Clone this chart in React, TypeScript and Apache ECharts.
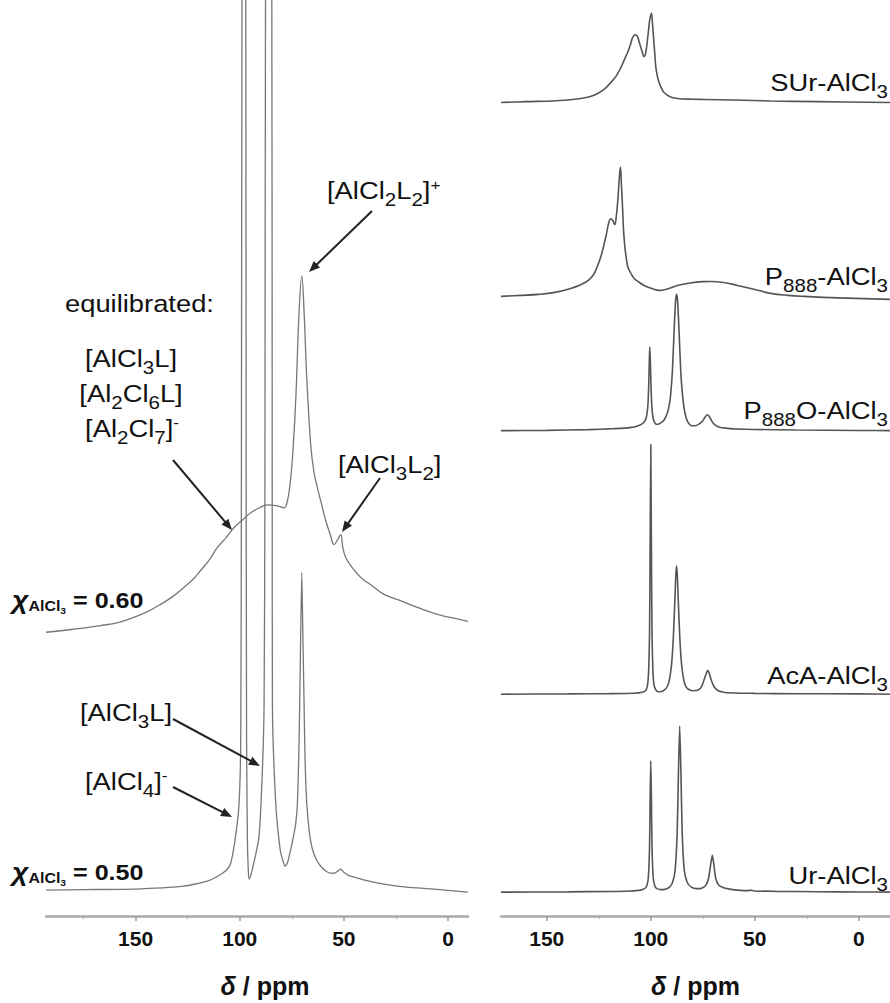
import React, { useEffect, useRef } from 'react';
import * as echarts from 'echarts';

// ---- axis ticks (ppm) ----
const MAJOR_TICKS = [0, 50, 100, 150];
const MINOR_TICKS = [25, 75, 125, 175];
const LEFT_RANGE = [-9.6, 193];
const RIGHT_RANGE = [-15, 172];

// ---- left panel spectra: [ppm, intensity above own baseline] ----
const CHI050 = [
  [193, 1], [175, 1.5], [151, 2], [127, 5], [115.5, 10], [109, 17], [106, 22], [104.3, 28], [102, 55],
  [100.3, 88], [99.5, 155], [99.2, 400], [98.9, 920], [98.0, 1400], [97.1, 920], [96.9, 400], [96.7, 150],
  [96.3, 50], [95.9, 22], [95.5, 12], [94.5, 17], [93.6, 25], [92.2, 38], [90.7, 55], [89.1, 122], [88.3, 188],
  [87.9, 400], [87.6, 920], [86.1, 1400], [84.6, 920], [84.4, 400], [84.3, 188], [82.7, 88], [80.6, 42],
  [79.2, 30], [78.2, 25], [77, 29], [75.5, 42], [74.2, 55], [73.1, 68], [72.3, 88], [71.6, 140], [71.2, 188],
  [70.7, 260], [70.2, 320], [69.7, 260], [69.1, 188], [68.6, 130], [67.8, 88], [66.5, 58], [65.1, 42],
  [63, 31], [61.1, 25], [58.5, 20], [56.3, 18], [54.5, 18], [53, 20], [51.5, 22], [50, 19], [48, 16],
  [46.7, 15], [40, 11], [30.7, 7], [20, 4], [6.7, 2], [-9.6, -1],
];
const CHI060 = [
  [193, 0], [180, 3], [166.8, 6.7], [158, 10], [150.8, 15], [144, 21], [138, 28], [132, 36], [126.8, 45],
  [122.5, 53], [118.8, 62], [114.5, 73], [110.8, 85], [106.5, 95], [102.8, 105], [98.5, 113], [94.7, 120],
  [90.5, 125], [86.7, 128], [81.9, 127], [78.7, 125], [77, 133], [75.5, 155], [74.2, 190], [73, 238],
  [71.5, 322], [70.2, 358], [69.1, 322], [67.8, 255], [65.9, 188], [64.3, 160], [62.7, 145], [60.5, 127],
  [58.7, 112], [56.5, 98], [54.7, 88], [53, 93], [51.5, 98], [50.5, 85], [49.1, 75], [46, 65], [41.9, 55],
  [36, 46], [30.7, 38], [22, 31], [14.7, 25], [5, 18], [-7.6, 12], [-9.6, 11],
];
const LEFT_OFFSETS = [25, 285];

// ---- right panel spectra ----
const UR = [
  [172, 0], [140, 0.3], [120, 0.7], [110, 1.2], [105, 2], [103, 3.5], [102, 6], [101.2, 14], [100.6, 45],
  [100.3, 95], [100, 132], [99.7, 95], [99.4, 45], [98.8, 14], [98, 6], [97, 3.5], [95, 2.5], [93, 3],
  [91, 5], [89.5, 10], [88.3, 22], [87.3, 60], [86.7, 120], [86.1, 167], [85.5, 120], [84.9, 60], [83.9, 22],
  [82.5, 10], [80.5, 5], [78, 3.5], [75.5, 4], [73.5, 7], [72.2, 14], [71.2, 28], [70.4, 37], [69.7, 28],
  [68.8, 14], [67.3, 7], [65, 4.5], [62, 3], [57, 1.8], [53, 1.5], [52, 2], [50.5, 1.2], [40, 0.8],
  [20, 0.4], [0, 0.2], [-15, 0],
];
const ACA = [
  [172, 0], [140, 0.3], [120, 0.6], [108, 1], [104, 2], [102.3, 4], [101.5, 10], [101, 25], [100.6, 60],
  [100.3, 150], [100, 251], [99.7, 150], [99.4, 60], [99, 25], [98.5, 10], [97.5, 4], [96.5, 2.5],
  [95.5, 2.5], [93.5, 4], [92, 8], [91, 15], [90, 30], [89.2, 55], [88.5, 90], [88, 118], [87.6, 129],
  [87.2, 118], [86.7, 90], [86, 55], [85.2, 30], [84.2, 15], [83.2, 8], [81.5, 4.5], [79.5, 3.5], [77, 4.5],
  [75.5, 8], [74.3, 15], [73.3, 21], [72.6, 24], [71.9, 21], [70.9, 14], [69.7, 8], [68, 4], [65, 2],
  [60, 1.2], [55, 1], [50, 0.8], [30, 0.5], [0, 0.3], [-15, 0],
];
const P888O = [
  [172, 0], [150, 0.3], [130, 1], [118, 2], [110, 3], [106, 5], [103.5, 8], [102.2, 13], [101.4, 25],
  [101, 45], [100.7, 70], [100.5, 84], [100.2, 70], [99.9, 45], [99.4, 22], [98.7, 11], [97.5, 6.5],
  [96.5, 6.5], [95, 8], [93.5, 11], [92, 18], [91.2, 25], [90.5, 35], [89.6, 60], [88.8, 100], [88.1, 130],
  [87.6, 137], [87.1, 130], [86.4, 100], [85.6, 60], [84.7, 35], [83.6, 18], [82.3, 9], [80.5, 5],
  [78.5, 5], [76.5, 7], [75, 10], [73.8, 14], [72.8, 16], [71.8, 14], [70.5, 9], [69, 5.5], [67, 3.5],
  [64, 2.5], [60, 1.8], [50, 1.2], [30, 0.6], [0, 0.2], [-15, 0],
];
const P888 = [
  [172, 3], [163, 4], [154, 5], [146, 7], [138.5, 11], [134, 14.5], [130, 19], [127.5, 25], [125.5, 34],
  [124, 43], [122.6, 54], [121.3, 66], [120.2, 77], [119.2, 81], [118.2, 79], [117.3, 75], [116.5, 85],
  [115.8, 101], [115.2, 120], [114.6, 133], [114.1, 115], [113.6, 94], [112.8, 61], [111.2, 34],
  [109.5, 26], [108, 21], [105.5, 17], [103.2, 14], [99.5, 11], [96, 9], [92, 10.5], [87.2, 14], [81, 16.5],
  [75, 17.8], [71.2, 18], [65, 17], [58.3, 14], [50, 10], [42.3, 6], [34, 4], [26.4, 3], [10, 1.5], [-15, 0],
];
const SUR = [
  [172, 0], [160, 0.8], [147, 1.5], [140, 2.5], [133.7, 4], [129, 6], [125.6, 9], [122, 14], [119.2, 20],
  [116.5, 27], [114.4, 35], [112.7, 43], [111.2, 50], [109.8, 58], [108.8, 65], [107.4, 68], [106.3, 66],
  [105.6, 61], [104.3, 52], [103.2, 46], [102.4, 50], [101.6, 63], [100.9, 76], [100.5, 83], [99.7, 90],
  [99.2, 80], [98.7, 66], [98.1, 50], [97.6, 36], [96.8, 26], [96, 20], [94.8, 14], [93.6, 10], [91, 6],
  [87.2, 4], [80, 3.2], [74.5, 3], [60, 2.5], [42.3, 1.5], [20, 0.8], [-15, 0],
];
const RIGHT_SPECTRA = [UR, ACA, P888O, P888, SUR];
const RIGHT_NAMES = ['Ur-AlCl3', 'AcA-AlCl3', 'P888O-AlCl3', 'P888-AlCl3', 'SUr-AlCl3'];
const RIGHT_OFFSETS = [24, 223, 488, 620, 818];
const RIGHT_SMOOTH = [0.2, 0.2, 0.2, 0.4, 0.35];

const FONT = "'Liberation Sans', Arial, Helvetica, sans-serif";
const FS = 24;
const SX = 1.14;

const richBase = {
  n: { fontSize: FS, fontFamily: FONT, fill: '#111', lineHeight: 29 },
  s: { fontSize: 18, fontFamily: FONT, fill: '#111', lineHeight: 20, padding: [18, 0, 0, 0] },
  u: { fontSize: 15, fontFamily: FONT, fill: '#111', lineHeight: 16, padding: [0, 0, 14, 0] },
};
const richChi = {
  x: { fontSize: 25, fontFamily: FONT, fontWeight: 'bold', fontStyle: 'italic', fill: '#111', lineHeight: 28 },
  a: { fontSize: 14, fontFamily: FONT, fontWeight: 'bold', fill: '#111', lineHeight: 15, padding: [9, 0, 0, 0] },
  b: { fontSize: 9, fontFamily: FONT, fontWeight: 'bold', fill: '#111', lineHeight: 10, padding: [20, 0, 0, 0] },
  e: { fontSize: 22, fontFamily: FONT, fontWeight: 'bold', fill: '#111', lineHeight: 26 },
};

function label(text: string, x: number, y: number, align: string, rich: any = richBase) {
  return {
    type: 'text', x, y, scaleX: SX, z: 10, silent: true,
    style: {
      text, rich, align, verticalAlign: 'middle', textAlign: align, textVerticalAlign: 'middle',
      fontSize: FS, fontFamily: FONT, fill: '#111',
    },
  };
}

function arrow(x1: number, y1: number, x2: number, y2: number) {
  const ang = Math.atan2(y2 - y1, x2 - x1);
  const L = 11, W = 4.5;
  const bx = x2 - L * Math.cos(ang), by = y2 - L * Math.sin(ang);
  const px = -Math.sin(ang) * W, py = Math.cos(ang) * W;
  return [
    { type: 'line', z: 10, silent: true, shape: { x1, y1, x2: bx + Math.cos(ang) * 2, y2: by + Math.sin(ang) * 2 }, style: { stroke: '#222', lineWidth: 2 } },
    { type: 'polygon', z: 10, silent: true, shape: { points: [[x2, y2], [bx + px, by + py], [bx - px, by - py]] }, style: { fill: '#222' } },
  ];
}

function rightLabel(name: string) {
  const m = name.match(/^(P)(888)(O?)-AlCl3$/);
  if (m) return `{n|P}{s|888}{n|${m[3]}-AlCl}{s|3}`;
  return `{n|${name.replace('AlCl3', 'AlCl')}}{s|3}`;
}

function xAxes(gridIndex: number, range: number[], namePad: number) {
  const common = { type: 'value', gridIndex, min: range[0], max: range[1], inverse: true, position: 'bottom', splitLine: { show: false } };
  return [
    {
      ...common,
      axisLine: { show: true, lineStyle: { color: '#aaa', width: 2.5 } },
      axisTick: { show: true, customValues: MAJOR_TICKS, length: 5, lineStyle: { color: '#999', width: 1.5 } },
      axisLabel: { show: true, customValues: MAJOR_TICKS, fontSize: 21, fontWeight: 'bold', color: '#111', margin: 12, fontFamily: FONT },
      name: '{i|δ} / ppm', nameLocation: 'middle', nameGap: 57,
      nameTextStyle: {
        fontSize: 25, fontWeight: 'bold', color: '#111', fontFamily: FONT, padding: [0, 0, 0, namePad],
        rich: { i: { fontSize: 25, fontWeight: 'bold', fontStyle: 'italic', color: '#111', fontFamily: FONT } },
      },
    },
    {
      ...common,
      axisLine: { show: false },
      axisTick: { show: true, customValues: MINOR_TICKS, length: 3, lineStyle: { color: '#aaa', width: 1.2 } },
      axisLabel: { show: false },
    },
  ];
}

export default function App() {
  const ref = useRef<HTMLDivElement>(null);
  useEffect(() => {
    if (!ref.current) return;
    const chart = echarts.init(ref.current, null, { renderer: 'svg' });

    const series: any[] = [];
    [CHI050, CHI060].forEach((spec, i) => {
      series.push({
        type: 'line', name: i === 0 ? 'χ=0.50' : 'χ=0.60', xAxisIndex: 0, yAxisIndex: 0,
        data: spec.map(([p, v]) => [p, v + LEFT_OFFSETS[i]]),
        symbol: 'none', smooth: i === 0 ? 0.2 : 0.4, clip: true, silent: true,
        lineStyle: { color: '#777', width: 1.3 }, z: 3,
      });
    });
    RIGHT_SPECTRA.forEach((spec, i) => {
      series.push({
        type: 'line', name: RIGHT_NAMES[i], xAxisIndex: 2, yAxisIndex: 1,
        data: spec.map(([p, v]) => [p, v + RIGHT_OFFSETS[i]]),
        symbol: 'none', smooth: RIGHT_SMOOTH[i], clip: true, silent: true,
        lineStyle: { color: '#555', width: 1.6 }, z: 3,
      });
    });

    const rightLabelY = [876, 676, 411, 277, 83];
    const graphic: any[] = [
      label('{n|[AlCl}{s|2}{n|L}{s|2}{n|]}{u|+}', 327, 191, 'left'),
      label('{n|equilibrated:}', 65, 304, 'left'),
      label('{n|[AlCl}{s|3}{n|L]}', 131, 359, 'center'),
      label('{n|[Al}{s|2}{n|Cl}{s|6}{n|L]}', 131, 394, 'center'),
      label('{n|[Al}{s|2}{n|Cl}{s|7}{n|]}{u|-}', 132, 429, 'center'),
      label('{n|[AlCl}{s|3}{n|L}{s|2}{n|]}', 338, 465, 'left'),
      label('{n|[AlCl}{s|3}{n|L]}', 80, 713, 'left'),
      label('{n|[AlCl}{s|4}{n|]}{u|-}', 85, 782, 'left'),
      label('{x|χ}{a|AlCl}{b|3}{e| = 0.60}', 12, 601, 'left', richChi),
      label('{x|χ}{a|AlCl}{b|3}{e| = 0.50}', 12, 873, 'left', richChi),
      ...arrow(372, 211, 309, 272),
      ...arrow(173, 460, 232, 530),
      ...arrow(380, 478, 342, 532),
      ...arrow(173, 719, 260, 766),
      ...arrow(173, 787, 232, 817),
      ...RIGHT_NAMES.map((nm, i) => label(rightLabel(nm), 888, rightLabelY[i], 'right')),
    ];

    chart.setOption({
      animation: false,
      backgroundColor: '#fff',
      grid: [
        { left: 46, right: 422, top: 0, bottom: 83 },
        { left: 501, right: 0, top: 0, bottom: 82 },
      ],
      xAxis: [...xAxes(0, LEFT_RANGE, 16), ...xAxes(1, RIGHT_RANGE, 0)],
      yAxis: [
        { type: 'value', gridIndex: 0, min: 0, max: 920, show: false },
        { type: 'value', gridIndex: 1, min: 0, max: 921, show: false },
      ],
      series,
      graphic,
    });
    return () => chart.dispose();
  }, []);
  return <div ref={ref} style={{ position: 'absolute', left: 0, top: 0, width: 890, height: 1003 }} />;
}
